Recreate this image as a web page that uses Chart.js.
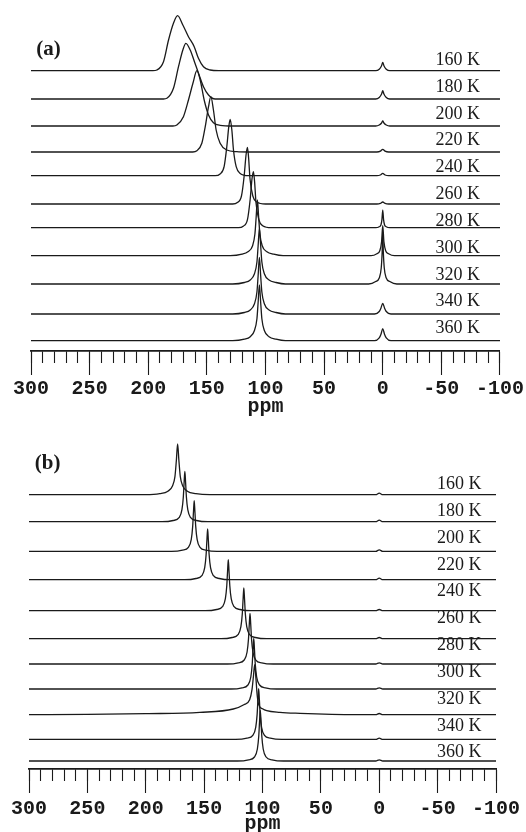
<!DOCTYPE html>
<html>
  <head>
    <meta charset="UTF-8" />
    <title>Spectra vs temperature</title>
    <style>
      body { margin: 0; background: #fff; }
      canvas { display: block; }
    </style>
  </head>
  <body>
    <canvas id="chartA" width="526" height="416"></canvas>
    <canvas id="chartB" width="526" height="416"></canvas>
    <script src="https://cdn.jsdelivr.net/npm/chart.js@4.4.1/dist/chart.umd.min.js"></script>
    <script>
      const temps = ["160 K", "180 K", "200 K", "220 K", "240 K", "260 K", "280 K", "300 K", "320 K", "340 K", "360 K"];

      // panel (a): vertical offset of each trace, then points as [ppm, intensity]
      const offsetsA = [280.3, 252, 225, 199, 175.3, 147, 123.3, 95.3, 67, 37, 10.3];
      const a160 = [[300,0],[196,0],[192.6,0.7],[187,9],[182.7,30.7],[178.5,47.4],[175,55],[170.5,45.7],[165.7,34],[160.8,24],[157.2,12.4],[152.9,4],[147.2,0.7],[140,0],[6,0],[3,1.5],[1,5],[0,8.3],[-1,5],[-3,1.5],[-6,0],[-100,0]];
      const a180 = [[300,0],[187,0],[184.1,0.7],[178.5,10.7],[174.2,32.3],[170.5,49],[167.9,55.7],[164.2,49],[160.6,37.3],[156.6,24],[152.9,12.3],[148.6,4],[142.9,0],[6,0],[3,1.5],[1,5],[0,8.3],[-1,5],[-3,1.5],[-6,0],[-100,0]];
      const a200 = [[300,0],[179,0],[175.6,1],[170,9.3],[165.7,26],[161.9,42.7],[158.5,55.3],[155.7,46],[152.3,26],[148.6,11],[144.4,3.3],[138.7,0.7],[128,0],[6,0],[3,1],[1,3],[0,5],[-1,3],[-3,1],[-6,0],[-100,0]];
      const a220 = [[300,0],[162,0],[158.5,1.3],[154.3,8.7],[151.4,25.3],[148.6,45.3],[146.6,55.3],[144.4,42],[142.1,22],[138.7,8.7],[133,2],[124.4,0.3],[115,0],[5,0],[2,0.8],[0,2.7],[-2,0.8],[-5,0],[-100,0]];
      const a240 = [[300,0],[143,0],[138.7,1.7],[135.3,9],[133,29],[131.3,49],[130.1,56.3],[128.7,45.7],[127.3,25.7],[125,9],[121.6,2.3],[114.5,0],[5,0],[2,0.7],[0,2.3],[-2,0.7],[-5,0],[-100,0]];
      const a260 = [[300,0],[128,0],[124,1.5],[120.5,8],[118.2,28],[116.6,49],[115.4,56.7],[114.4,46],[113.2,25],[110.8,8],[107.5,2],[100,0],[5,0],[2,0.6],[0,2],[-2,0.6],[-5,0],[-100,0]];
      const a280 = [[300,0],[123,0],[119,1.5],[115.4,8],[113.1,28],[111.5,49],[110.3,56],[109.3,46],[108.1,25],[105.7,8],[102.4,2],[95,0],[6,0],[3,1],[1.5,3],[0.7,8],[0,17.5],[-0.7,8],[-1.5,3],[-3,1],[-6,0],[-100,0]];
      const a300 = [[300,0],[130,0],[120,1.5],[115,4],[111,10],[109,22],[108,38],[106.9,55.7],[105.8,38],[104.8,22],[102.8,10],[98.8,4],[93,1.5],[85,0],[10,0],[5,2],[2.5,5],[1,14],[0,30],[-1,14],[-2.5,5],[-5,2],[-10,0],[-100,0]];
      const a320 = [[300,0],[128,0],[118,1.5],[113,4],[109.5,10],[107.3,22],[106.3,38],[105.2,55.7],[104.1,38],[103.1,22],[100.9,10],[97,4],[91,1.5],[83,0],[12,0],[6,2.5],[3,6],[1.3,16],[0.5,32],[0,52],[-0.5,32],[-1.3,16],[-3,6],[-6,2.5],[-12,0],[-100,0]];
      const a340 = [[300,0],[128,0],[118,1.5],[113,4],[109.5,10],[107.3,22],[106.3,38],[105.2,56.7],[104.1,38],[103.1,22],[100.9,10],[97,4],[91,1.5],[83,0],[7,0],[3,2.5],[1.5,6],[0,10.7],[-1.5,6],[-3,2.5],[-7,0],[-100,0]];
      const a360 = [[300,0],[128,0],[118,1.5],[113,4],[109.5,10],[107.3,22],[106.3,38],[105.2,55.7],[104.1,38],[103.1,22],[100.9,10],[97,4],[91,1.5],[83,0],[7,0],[3,2.8],[1.5,6.5],[0,12],[-1.5,6.5],[-3,2.8],[-7,0],[-100,0]];

      // panel (b)
      const offsetsB = [274.3, 247.3, 217.6, 189.3, 158.3, 130.3, 105, 80, 54.3, 29.6, 8];
      const b160 = [[300,0],[200,0],[188,1],[181,3.5],[177,9],[175,18],[173.8,34],[172.7,50.7],[171.6,34],[170.4,18],[168.4,9],[164.4,3.5],[157,1],[145,0],[3,0],[0,1.5],[-3,0],[-100,0]];
      const b180 = [[300,0],[186,0],[176.5,1.2],[171.5,4],[169,12],[167.8,25],[167.1,40],[166.5,50.3],[165.9,40],[165.2,25],[164,12],[161.5,4],[156.5,1.2],[147,0],[3,0],[0,1.5],[-3,0],[-100,0]];
      const b200 = [[300,0],[178,0],[168.5,1.2],[163.5,4],[161,12],[159.8,25],[159.1,40],[158.5,50.7],[157.9,40],[157.2,25],[156,12],[153.5,4],[148.5,1.2],[139,0],[3,0],[0,1.5],[-3,0],[-100,0]];
      const b220 = [[300,0],[166.5,0],[157,1.2],[152,4],[149.5,12],[148.3,25],[147.6,40],[147,50.7],[146.4,40],[145.7,25],[144.5,12],[142,4],[137,1.2],[127.5,0],[3,0],[0,1.5],[-3,0],[-100,0]];
      const b240 = [[300,0],[149,0],[139.3,1.2],[134.3,4],[131.8,12],[130.6,25],[129.9,40],[129.3,51],[128.7,40],[128,25],[126.8,12],[124.3,4],[119.3,1.2],[110,0],[3,0],[0,1.2],[-3,0],[-100,0]];
      const b260 = [[300,0],[135.5,0],[126,1.2],[121,4],[118.5,12],[117.3,25],[116.6,40],[116,50.7],[115.4,40],[114.7,25],[113.5,12],[111,4],[106,1.2],[96.5,0],[3,0],[0,1.2],[-3,0],[-100,0]];
      const b280 = [[300,0],[130,0],[120.7,1.2],[115.7,4],[113.2,12],[112,25],[111.3,40],[110.7,50.6],[110.1,40],[109.4,25],[108.2,12],[105.7,4],[100.7,1.2],[91,0],[3,0],[0,1.2],[-3,0],[-100,0]];
      const b300 = [[300,0],[127,0],[117.5,1.2],[112.5,4],[110,12],[108.8,25],[108.1,40],[107.5,50.6],[106.9,40],[106.2,25],[105,12],[102.5,4],[97.5,1.2],[88,0],[3,0],[0,1.2],[-3,0],[-100,0]];
      const b320 = [[300,0],[250,0.3],[200,1],[153.6,2.3],[125,5.7],[116,10],[111,15],[109,25],[107.8,38],[106.7,50],[105.6,36],[104.6,20],[103.2,10],[100,6],[96.4,4],[85,2.3],[67.8,1.3],[40.8,0.3],[20,0],[3,0],[0,1.2],[-3,0],[-100,0]];
      const b340 = [[300,0],[123,0],[113.3,1.2],[108.3,4],[105.8,12],[104.6,25],[103.9,40],[103.3,50.7],[102.7,40],[102,25],[100.8,12],[98.3,4],[93.3,1.2],[83.5,0],[3,0],[0,1.2],[-3,0],[-100,0]];
      const b360 = [[300,0],[121.5,0],[111.9,1.2],[106.9,4],[104.4,12],[103.2,25],[102.5,40],[101.9,50.7],[101.3,40],[100.6,25],[99.4,12],[96.9,4],[91.9,1.2],[82,0],[3,0],[0,1.2],[-3,0],[-100,0]];

      const ink = "#1a1a1a";

      // temperature labels + panel tag, placed through the chart scales
      const tempLabels = {
        id: "tempLabels",
        afterDatasetsDraw(chart, args, opts) {
          const { ctx } = chart;
          const x = chart.scales.x, y = chart.scales.y;
          ctx.save();
          ctx.fillStyle = ink;
          ctx.font = '18px "Liberation Serif"';
          ctx.textAlign = "right";
          ctx.textBaseline = "alphabetic";
          temps.forEach((t, i) => {
            ctx.fillText(t, x.getPixelForValue(opts.ppm), y.getPixelForValue(opts.top - i * opts.step));
          });
          ctx.font = 'bold 21px "Liberation Serif"';
          ctx.textAlign = "left";
          ctx.textBaseline = "middle";
          ctx.fillText(opts.tag, x.getPixelForValue(opts.tagPpm), y.getPixelForValue(opts.tagY));
          ctx.restore();
        }
      };

      function makePanel(id, offsets, traces, lay) {
        const datasets = traces.map((pts, i) => ({
          label: temps[i],
          data: pts.map(p => ({ x: p[0], y: offsets[i] + p[1] })),
          borderColor: ink,
          borderWidth: 1.3,
          pointRadius: 0,
          fill: false,
          cubicInterpolationMode: "monotone"
        }));
        const monoFont = { family: '"Liberation Mono", monospace', size: 20, weight: "bold" };
        return new Chart(document.getElementById(id), {
          type: "line",
          data: { datasets },
          options: {
            responsive: false,
            animation: false,
            devicePixelRatio: 1,
            layout: { padding: { left: lay.left, right: lay.right, top: 0, bottom: 0 } },
            plugins: {
              legend: { display: false },
              tooltip: { enabled: false },
              tempLabels: lay.labels
            },
            scales: {
              // minor ruler ticks every 10 ppm, zero height so it sits on the axis line
              x2: {
                type: "linear", position: "bottom", weight: 0,
                min: -100, max: 300, reverse: true,
                afterFit: s => { s.height = 0; },
                border: { display: true, color: ink, width: 1.4 },
                grid: { drawOnChartArea: false, drawTicks: true, tickLength: 12, tickWidth: 1.1, tickColor: ink },
                ticks: { stepSize: 10, autoSkip: false, maxRotation: 0, callback: () => "" }
              },
              x: {
                type: "linear", position: "bottom", weight: 1,
                min: -100, max: 300, reverse: true,
                afterFit: s => { s.height = lay.axisH; },
                border: { display: true, color: ink, width: 1.4 },
                grid: { drawOnChartArea: false, drawTicks: true, tickLength: 24, tickWidth: 1.1, tickColor: ink },
                ticks: { stepSize: 50, autoSkip: false, maxRotation: 0, color: ink, padding: lay.tickPad, font: monoFont },
                title: {
                  display: true, text: "ppm", color: ink, padding: 0,
                  font: { family: '"Liberation Mono", monospace', size: 20, weight: "bold", lineHeight: lay.titleLH }
                }
              },
              y: { display: false, min: 0, max: lay.ymax }
            }
          },
          plugins: [tempLabels]
        });
      }

      makePanel("chartA", offsetsA,
        [a160, a180, a200, a220, a240, a260, a280, a300, a320, a340, a360],
        { left: 31, right: 26, axisH: 65, ymax: 351, tickPad: 2, titleLH: 0.9,
          labels: { ppm: -83, top: 286, step: 26.83, tag: "(a)", tagPpm: 295.5, tagY: 301 } });

      makePanel("chartB", offsetsB,
        [b160, b180, b200, b220, b240, b260, b280, b300, b320, b340, b360],
        { left: 29, right: 30, axisH: 63, ymax: 353, tickPad: 4, titleLH: 0.8,
          labels: { ppm: -87.5, top: 280, step: 26.84, tag: "(b)", tagPpm: 295, tagY: 305.8 } });
    </script>
  </body>
</html>
